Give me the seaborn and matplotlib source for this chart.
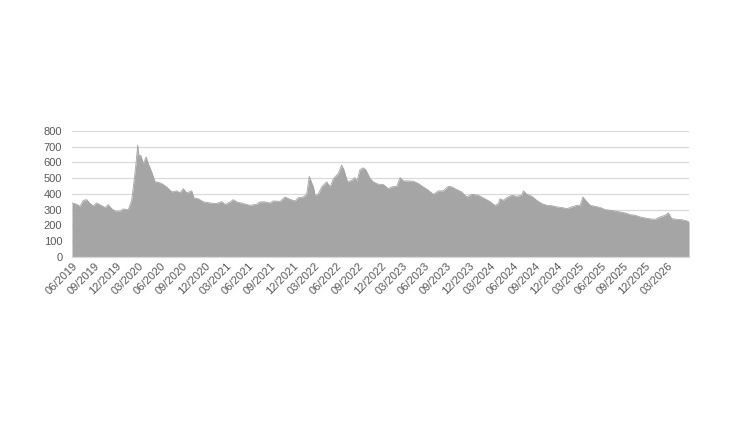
import matplotlib
matplotlib.use("Agg")
import matplotlib.pyplot as plt
import matplotlib.dates as mdates
import seaborn as sns
import pandas as pd

dates = [
    "2019-06-01", "2019-06-20", "2019-07-04", "2019-07-18", "2019-08-01", "2019-08-15", "2019-08-28",
    "2019-09-11", "2019-10-02", "2019-10-16", "2019-10-29", "2019-11-12", "2019-11-26", "2019-12-17",
    "2019-12-31", "2020-01-20", "2020-02-03", "2020-02-10", "2020-02-21", "2020-02-28", "2020-03-05",
    "2020-03-12", "2020-03-22", "2020-04-03", "2020-04-12", "2020-04-26", "2020-05-10", "2020-05-17",
    "2020-06-07", "2020-06-27", "2020-07-18", "2020-08-08", "2020-08-21", "2020-09-04", "2020-09-18",
    "2020-10-09", "2020-10-18", "2020-11-05", "2020-11-26", "2020-12-24", "2021-01-20", "2021-02-10",
    "2021-02-24", "2021-03-17", "2021-03-30", "2021-04-13", "2021-05-11", "2021-06-07", "2021-07-05",
    "2021-07-19", "2021-08-09", "2021-08-29", "2021-09-12", "2021-10-10", "2021-10-30", "2021-11-20",
    "2021-12-11", "2021-12-25", "2022-01-14", "2022-01-28", "2022-02-08", "2022-02-14", "2022-02-25",
    "2022-03-04", "2022-03-17", "2022-03-31", "2022-04-21", "2022-05-05", "2022-05-19", "2022-06-08",
    "2022-06-22", "2022-07-02", "2022-07-16", "2022-08-03", "2022-08-16", "2022-08-24", "2022-09-06",
    "2022-09-20", "2022-10-01", "2022-10-18", "2022-10-31", "2022-11-21", "2022-12-12", "2023-01-01",
    "2023-01-16", "2023-02-05", "2023-02-19", "2023-03-05", "2023-03-25", "2023-04-15", "2023-05-06",
    "2023-05-26", "2023-06-16", "2023-07-07", "2023-07-28", "2023-08-17", "2023-09-07", "2023-09-21",
    "2023-10-12", "2023-11-01", "2023-11-22", "2023-12-13", "2024-01-09", "2024-01-30", "2024-02-24",
    "2024-03-18", "2024-04-01", "2024-04-08", "2024-04-22", "2024-05-06", "2024-05-27", "2024-06-16",
    "2024-07-07", "2024-07-14", "2024-07-28", "2024-08-18", "2024-09-07", "2024-09-28", "2024-10-19",
    "2024-11-08", "2024-11-29", "2024-12-20", "2025-01-10", "2025-01-30", "2025-02-20", "2025-03-06",
    "2025-03-17", "2025-03-31", "2025-04-16", "2025-05-07", "2025-05-28", "2025-06-17", "2025-07-08",
    "2025-07-29", "2025-08-18", "2025-09-08", "2025-09-29", "2025-10-20", "2025-11-09", "2025-11-30",
    "2025-12-21", "2026-01-10", "2026-01-31", "2026-02-21", "2026-03-06", "2026-03-20", "2026-04-10",
    "2026-05-01", "2026-05-22", "2026-05-31",
]
values = [
    343, 335, 322, 360, 364, 339, 325,
    343, 326, 314, 332, 307, 292, 290,
    305, 300, 360, 445, 593, 710, 635,
    646, 593, 635, 593, 540, 477, 477,
    466, 445, 413, 420, 407, 434, 407,
    420, 375, 370, 350, 343, 339, 352,
    333, 350, 364, 350, 339, 328, 335,
    350, 350, 343, 356, 353, 381, 366,
    356, 377, 381, 398, 513, 487, 445,
    392, 398, 445, 477, 445, 498, 530,
    583, 551, 477, 487, 504, 481, 555,
    566, 551, 498, 477, 462, 460, 434,
    445, 449, 504, 483, 483, 481, 466,
    445, 424, 398, 420, 420, 449, 445,
    428, 413, 381, 398, 392, 375, 354,
    328, 339, 370, 360, 377, 392, 385,
    392, 420, 398, 385, 360, 339, 328,
    326, 318, 314, 307, 318, 328, 328,
    381, 356, 328, 322, 314, 301, 297,
    292, 286, 280, 269, 265, 254, 248,
    242, 239, 254, 265, 280, 244, 239,
    237, 229, 222,
]
y_ticks = [0, 100, 200, 300, 400, 500, 600, 700, 800]
x_start, x_end = "2019-06-01", "2026-05-31"

df = pd.DataFrame({"date": pd.to_datetime(dates), "value": values})

sns.set_theme(style="white")
plt.rcParams["font.family"] = ["Liberation Sans", "DejaVu Sans"]

fig = plt.figure(figsize=(7.5, 4.22), dpi=100)
ax = fig.add_axes([0.096, 0.391, 0.8227, 0.2986])

fill_color = "#a5a5a5"
ax.fill_between(df["date"], 0, df["value"], color=fill_color, linewidth=0, zorder=2)
sns.lineplot(data=df, x="date", y="value", ax=ax, color=fill_color, linewidth=0.6, zorder=3)

ax.set_xlim(pd.Timestamp(x_start), pd.Timestamp(x_end))
ax.set_ylim(0, 800)
ax.set_yticks(y_ticks)
ax.yaxis.grid(True, color="#d9d9d9", linewidth=0.9, zorder=0)
ax.xaxis.grid(False)
ax.set_axisbelow(True)

ax.xaxis.set_major_locator(mdates.MonthLocator(bymonth=[3, 6, 9, 12], bymonthday=1))
ax.xaxis.set_major_formatter(mdates.DateFormatter("%m/%Y"))

for s in ["top", "right", "left"]:
    ax.spines[s].set_visible(False)
ax.spines["bottom"].set_color("#d9d9d9")
ax.spines["bottom"].set_linewidth(0.9)

ax.tick_params(axis="both", length=0, colors="#595959", labelsize=8)
ax.tick_params(axis="y", pad=7)
ax.tick_params(axis="x", pad=3)
for lab in ax.get_xticklabels():
    lab.set_rotation(45)
    lab.set_ha("right")
    lab.set_rotation_mode("anchor")

ax.set_xlabel("")
ax.set_ylabel("")

fig.savefig("out.png", dpi=100, facecolor="white")
